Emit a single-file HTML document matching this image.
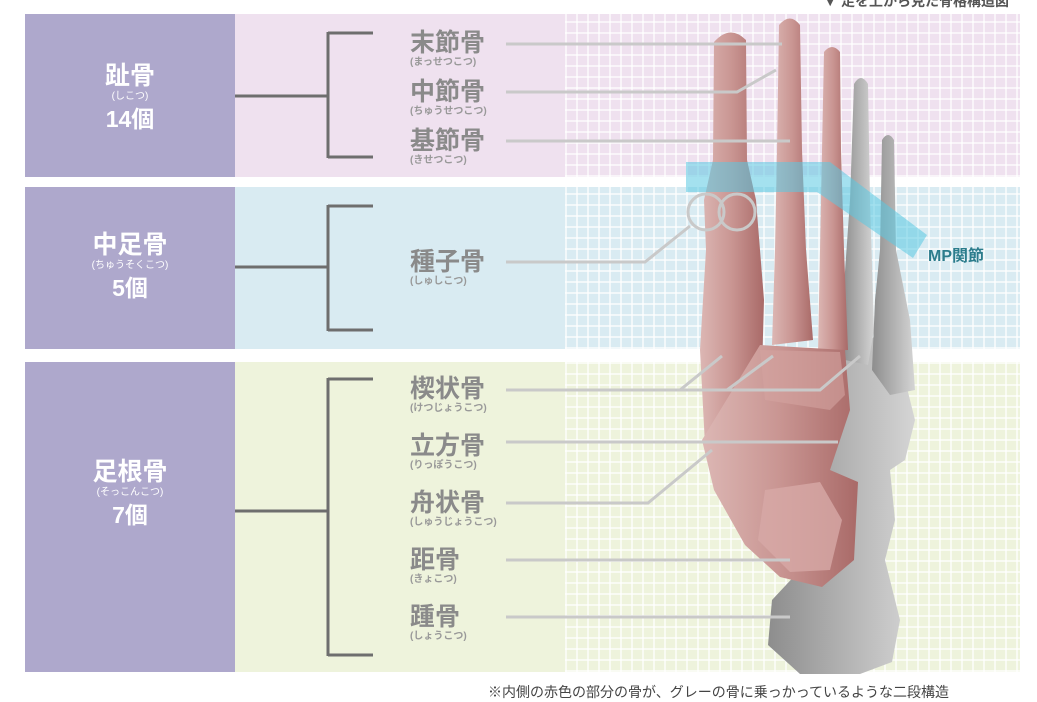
<!DOCTYPE html>
<html><head><meta charset="utf-8"><style>
html,body{margin:0;padding:0;background:#fff;}
body{width:1037px;height:690px;position:relative;overflow:hidden;font-family:"Liberation Sans","Noto Sans CJK JP",sans-serif;}
.band{position:absolute;left:25px;width:995px;}
.left{position:absolute;left:0;top:0;bottom:0;width:210px;background:#aea8cc;color:#fff;text-align:center;}
.light{position:absolute;left:210px;top:0;bottom:0;right:0;}
.grid{position:absolute;left:540px;top:0;bottom:0;right:0;
background-image:repeating-linear-gradient(90deg,rgba(255,255,255,.65) 0 2px,transparent 2px 11px),repeating-linear-gradient(0deg,rgba(255,255,255,.65) 0 2px,transparent 2px 11px);}
.t1{font-size:25px;font-weight:bold;line-height:28px;}
.t2{font-size:10px;line-height:14px;}
.t3{font-size:23px;font-weight:bold;line-height:30px;}
.lbl{position:absolute;left:410px;color:#8a8a8a;}
.lbl b{display:block;font-size:25px;line-height:28px;}
.lbl span{display:block;font-size:10px;line-height:12px;font-weight:bold;color:#999;}
</style></head><body>
<div style="position:absolute;right:28px;top:-9px;font-size:14px;font-weight:bold;color:#555;">▼ 足を上から見た骨格構造図</div>
<div class="band" style="top:14px;height:163px;"><div class="light" style="background:#efe1ef"></div><div class="grid"></div>
<div class="left"><div style="padding-top:48px" class="t1">趾骨</div><div class="t2">(しこつ)</div><div class="t3">14個</div></div></div>
<div class="band" style="top:187px;height:162px;"><div class="light" style="background:#d9ebf2"></div><div class="grid"></div>
<div class="left"><div style="padding-top:44px" class="t1">中足骨</div><div class="t2">(ちゅうそくこつ)</div><div class="t3">5個</div></div></div>
<div class="band" style="top:362px;height:310px;"><div class="light" style="background:#eef3dc"></div><div class="grid"></div>
<div class="left"><div style="padding-top:96px" class="t1">足根骨</div><div class="t2">(そっこんこつ)</div><div class="t3">7個</div></div></div>

<svg width="1037" height="690" style="position:absolute;left:0;top:0">
<defs>
<linearGradient id="r" x1="0" x2="1"><stop offset="0" stop-color="#dcb7b4"/><stop offset=".5" stop-color="#c99592"/><stop offset="1" stop-color="#a96a68"/></linearGradient>
<linearGradient id="g" x1="0" x2="1"><stop offset="0" stop-color="#8d8d8d"/><stop offset=".6" stop-color="#b8b8b8"/><stop offset="1" stop-color="#d5d5d5"/></linearGradient>
</defs>
<g fill="none" stroke="#6e6e6e" stroke-width="3">
<path d="M235 96H328M328 32V158M328 33H373M328 157H373"/>
<path d="M235 267H328M328 205V331M328 206H373M328 330H373"/>
<path d="M235 511H328M328 378V656M328 379H373M328 655H373"/>
</g>
<!-- gray bones -->
<path d="M840 350 L880 335 L905 380 L915 420 L905 460 L890 470 L895 520 L885 560 L900 620 L892 662 L860 674 L800 674 L768 645 L772 600 L800 570 L818 540 L808 500 L800 450 L820 400 Z" fill="url(#g)"/>
<path d="M854 84 Q861 72 868 84 L870 200 L874 330 L868 365 L845 360 L843 300 L850 200 Z" fill="url(#g)"/>
<path d="M882 140 Q888 130 894 140 L896 250 L910 320 L915 390 L890 395 L872 370 L875 300 L880 250 Z" fill="url(#g)"/>
<!-- red bones -->
<path d="M714 42 Q730 24 746 40 L747 160 L756 200 L764 300 L760 440 L705 445 L700 350 L706 250 L704 200 L713 160 Z" fill="url(#r)"/>
<path d="M779 25 Q790 12 800 25 L802 150 L806 250 L813 340 L772 345 L775 250 L777 150 Z" fill="url(#r)"/>
<path d="M824 52 Q832 42 840 52 L841 150 L844 250 L848 350 L818 352 L820 250 L822 150 Z" fill="url(#r)"/>
<path d="M702 440 L760 345 L845 350 L850 410 L830 470 L858 482 L854 560 L822 587 L780 577 L745 545 L714 490 Z" fill="url(#r)"/>
<path d="M765 490 L820 482 L842 520 L830 570 L790 572 L758 540 Z" fill="#d7a9a6" opacity=".8"/>
<path d="M760 350 L840 352 L845 395 L830 410 L765 400 Z" fill="#d3a3a0" opacity=".6"/>
<!-- MP band -->
<path d="M686 162 L830 162 L927 235 L913 258 L817 192 L686 192 Z" fill="rgba(90,200,225,.55)"/>
<!-- leader lines -->
<g fill="none" stroke="#c9c9c9" stroke-width="3">
<path d="M506 44H782"/>
<path d="M506 92H737L776 70"/>
<path d="M506 141H790"/>
<path d="M506 262H645L690 226"/>
<circle cx="706" cy="212" r="18"/><circle cx="737" cy="212" r="18"/>
<path d="M506 390H820L860 356M680 390L722 356M727 390L773 356"/>
<path d="M506 442H838"/>
<path d="M506 503H648L712 450"/>
<path d="M506 560H790"/>
<path d="M506 617H790"/>
</g>
<text x="928" y="261" font-size="16" font-weight="bold" fill="#2b7c8c" font-family="Liberation Sans, Noto Sans CJK JP, sans-serif">MP関節</text>
</svg>

<div class="lbl" style="top:29px"><b>末節骨</b><span>(まっせつこつ)</span></div>
<div class="lbl" style="top:78px"><b>中節骨</b><span>(ちゅうせつこつ)</span></div>
<div class="lbl" style="top:127px"><b>基節骨</b><span>(きせつこつ)</span></div>
<div class="lbl" style="top:248px"><b>種子骨</b><span>(しゅしこつ)</span></div>
<div class="lbl" style="top:375px"><b>楔状骨</b><span>(けつじょうこつ)</span></div>
<div class="lbl" style="top:432px"><b>立方骨</b><span>(りっぽうこつ)</span></div>
<div class="lbl" style="top:489px"><b>舟状骨</b><span>(しゅうじょうこつ)</span></div>
<div class="lbl" style="top:546px"><b>距骨</b><span>(きょこつ)</span></div>
<div class="lbl" style="top:603px"><b>踵骨</b><span>(しょうこつ)</span></div>
<div style="position:absolute;left:488px;top:682px;font-size:14px;color:#444;white-space:nowrap;">※内側の赤色の部分の骨が、グレーの骨に乗っかっているような二段構造</div>
</body></html>
